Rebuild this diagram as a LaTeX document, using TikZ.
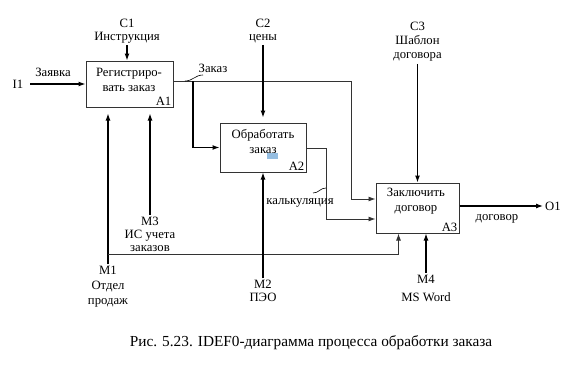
\documentclass[tikz,border=0pt]{standalone}
\usepackage{fontspec}
\setmainfont{Liberation Serif}
\usetikzlibrary{arrows.meta,calc}
\definecolor{selblue}{RGB}{150,190,225}

\begin{document}
\begin{tikzpicture}[x=1pt,y=-1pt,>={Latex[length=7pt,width=5pt]},
  font=\fontsize{12.7}{12.5}\selectfont,
  func/.style={draw=black!80,line width=1pt,minimum width=#1,inner sep=0pt},
  lbl/.style={align=center,inner sep=2pt},
  arr/.style={->,line width=1.2pt},
  pipe/.style={->,line width=0.9pt,draw=black!80},
  tick/.style={line width=0.6pt}]
  \useasboundingbox (0,0) rectangle (581,372);

  % blocks
  \node[func=87pt,minimum height=46pt] (a1) at (129.5,84) {};
  \node[func=86pt,minimum height=49pt] (a2) at (263,147.5) {};
  \node[func=83pt,minimum height=50pt] (a3) at (417.5,208) {};
  \node[lbl,font=\fontsize{12.7}{15}\selectfont] (t1) at (129,79.5) {Регистриро-\\вать заказ};
  \node[lbl,font=\fontsize{12.7}{15}\selectfont] (t2) at (263,141.5) {Обработать\\заказ};
  \node[lbl,font=\fontsize{12.7}{15}\selectfont] (t3) at (416,201.5) {Заключить\\договор};
  \node[anchor=south east,inner sep=2pt] (n1) at (a1.south east) {A1};
  \node[anchor=south east,inner sep=2pt] (n2) at (a2.south east) {A2};
  \node[anchor=south east,inner sep=2pt] (n3) at (a3.south east) {A3};
  \fill[selblue] (267,153) rectangle (278,159);

  % inputs
  \node[lbl] (i1) at (18,84) {I1};
  \node[lbl] (zv) at (53,72) {Заявка};
  \draw[arr] ([xshift=5pt]i1.east) -- (i1.east -| a1.west);
  \coordinate (o1) at ($(a1.east)+(0,-3)$);
  \draw[pipe] (o1) -| ($(a3.west)+(-24,-9)$) -- ($(a3.west)+(0,-9)$);
  \draw[arr] (o1 -| 193,0) |- (a2.west);
  \draw[tick] (185,81) .. controls (193,81) and (195,75) .. (203,75);
  \node[lbl] (zk) at (213,68) {Заказ};
  \draw[pipe] ($(a2.east)+(0,1)$) -| (326,219) -- ($(a3.west)+(0,11)$);
  \draw[tick] (313,193) .. controls (319,193) and (320,188) .. (326,188);
  \node[lbl] (kl) at (300,203) {калькуляция};

  % controls
  \node[lbl] (c1) at (127,31) {C1\\Инструкция};
  \draw[arr] (c1.south) -- (c1.south |- a1.north);
  \node[lbl] (c2) at (263,31) {C2\\цены};
  \draw[arr] (c2.south) -- ($(a2.north)+(0,-5)$);
  \node[lbl,font=\fontsize{12.7}{14}\selectfont] (c3) at (417.5,42) {C3\\Шаблон\\договора};
  \draw[arr] (c3.south) -- (a3.north);

  % output
  \node[lbl] (out) at (553,206) {O1};
  \draw[arr] ($(a3.east)+(0,-2)$) -- (out.west);
  \node[lbl] (dg) at (497,219) {договор};

  % mechanisms
  \node[lbl,font=\fontsize{12.7}{15}\selectfont] (m1) at (108,287) {M1\\Отдел\\продаж};
  \draw[arr] (m1.north) -- ($(m1.north |- a1.south)+(0,6)$);
  \draw[pipe] (108,254) -| ($(a3.south)+(-19,0)$);
  \node[lbl,font=\fontsize{12.7}{13}\selectfont] (m3) at (150,234) {M3\\ИС учета\\заказов};
  \draw[arr] (m3.north) -- ($(m3.north |- a1.south)+(0,6)$);
  \node[lbl] (m2) at (263,291) {M2\\ПЭО};
  \draw[arr] (m2.north) -- (a2.south);
  \node[lbl,font=\fontsize{12.7}{18}\selectfont] (m4) at (426,288) {M4\\MS Word};
  \draw[arr] (m4.north) -- (m4.north |- a3.south);

  \node[lbl,font=\fontsize{15.3}{16}\selectfont] (cap) at (311,343)
    {Рис. 5.23. IDEF0-диаграмма процесса обработки заказа};
\end{tikzpicture}
\end{document}
